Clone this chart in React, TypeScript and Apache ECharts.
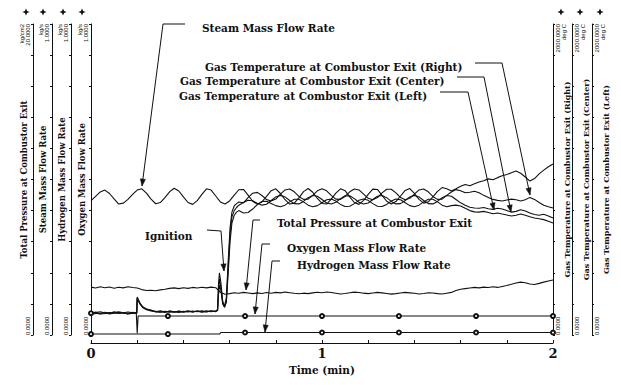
import { useEffect, useRef } from "react";
import * as echarts from "echarts";

// ---- data (time in minutes) ----
const TIME = [0,0.02,0.04,0.06,0.08,0.1,0.12,0.14,0.16,0.18,0.2,0.22,0.24,0.26,0.28,0.3,0.32,0.34,0.36,0.38,0.4,0.42,0.44,0.46,0.48,0.5,0.52,0.54,0.56,0.58,0.6,0.62,0.64,0.66,0.68,0.7,0.72,0.74,0.76,0.78,0.8,0.82,0.84,0.86,0.88,0.9,0.92,0.94,0.96,0.98,1,1.02,1.04,1.06,1.08,1.1,1.12,1.14,1.16,1.18,1.2,1.22,1.24,1.26,1.28,1.3,1.32,1.34,1.36,1.38,1.4,1.42,1.44,1.46,1.48,1.5,1.52,1.54,1.56,1.58,1.6,1.62,1.64,1.66,1.68,1.7,1.72,1.74,1.76,1.78,1.8,1.82,1.84,1.86,1.88,1.9,1.92,1.94,1.96,1.98,2];

// Steam mass flow rate, kg/s
const STEAM = [0.432,0.446,0.460,0.466,0.455,0.438,0.421,0.424,0.436,0.452,
0.466,0.470,0.456,0.437,0.422,0.426,0.442,0.460,0.472,0.463,
0.444,0.426,0.420,0.432,0.452,0.470,0.466,0.447,0.428,0.421,
0.431,0.450,0.467,0.468,0.450,0.430,0.420,0.428,0.446,0.464,
0.470,0.455,0.435,0.421,0.424,0.441,0.461,0.471,0.459,0.439,
0.423,0.421,0.437,0.456,0.470,0.464,0.444,0.426,0.420,0.433,
0.452,0.469,0.468,0.449,0.430,0.421,0.429,0.447,0.465,0.471,
0.455,0.436,0.424,0.428,0.444,0.462,0.474,0.470,0.463,0.470,
0.478,0.484,0.480,0.486,0.492,0.496,0.502,0.499,0.506,0.512,
0.516,0.522,0.527,0.520,0.508,0.495,0.503,0.518,0.530,0.541,
0.550];

// Total pressure at combustor exit, kg/cm2
const PRESSURE = [3.08,3.02,3.10,3.04,3.09,3.01,3.07,3.03,3.10,3.05,
3.02,2.92,2.86,2.88,2.85,2.90,2.94,3.00,3.03,2.98,3.04,3.00,3.06,3.02,3.07,3.03,3.08,3.04,
2.75,2.62,2.66,2.72,2.68,2.74,2.70,2.66,2.71,2.67,2.73,2.69,2.74,2.71,2.76,2.72,2.68,2.65,2.69,2.66,2.71,2.75,
2.72,2.77,2.73,2.69,2.64,2.67,2.72,2.76,2.73,2.69,2.66,2.70,2.74,2.71,2.67,2.63,2.66,2.70,2.74,2.71,
2.68,2.64,2.67,2.72,2.70,2.66,2.64,2.69,2.74,2.86,2.94,2.98,3.02,3.06,3.03,3.08,3.05,3.10,3.06,3.12,
3.18,3.26,3.34,3.40,3.36,3.28,3.25,3.32,3.40,3.47,3.54];

const TEMP_TIME = [0,0.04,0.08,0.12,0.16,0.198,0.2,0.206,0.214,0.225,0.24,0.26,0.28,0.3,0.32,0.34,0.36,0.38,0.4,0.42,0.44,0.46,0.48,0.5,0.52,0.54,0.548,0.552,0.556,0.562,0.57,0.578,0.586,0.594,0.602,0.61,0.62,0.63,0.64,
0.66,0.68,0.7,0.72,0.74,0.76,0.78,0.8,0.82,0.84,0.86,0.88,0.9,0.92,0.94,0.96,0.98,1,1.02,1.04,1.06,1.08,1.1,1.12,1.14,1.16,1.18,1.2,1.22,1.24,1.26,1.28,1.3,1.32,1.34,1.36,1.38,1.4,1.42,1.44,1.46,1.48,1.5,1.52,1.54,1.56,1.58,1.6,1.62,1.64,1.66,1.68,1.7,1.72,1.74,1.76,1.78,1.8,1.82,1.84,1.86,1.88,1.9,1.92,1.94,1.96,1.98,2];

// Gas temperatures at combustor exit, deg C
const TEMP_RIGHT = [140,150,135,145,138,142,245,225,200,180,168,158,150,155,148,152,146,154,149,155,150,153,147,155,150,156,160,300,360,310,210,185,240,480,690,790,830,845,855,
850,884,912,917,897,871,861,874,906,933,939,921,891,872,874,898,927,940,927,898,
874,872,891,921,939,933,906,879,870,884,914,937,937,914,884,870,879,906,933,939,
921,891,872,874,898,920,935,928,915,918,925,915,898,885,872,866,862,868,874,870,
862,870,885,872,852,835,825,817];
const TEMP_CENTER = [135,140,145,138,148,140,230,215,195,175,162,155,152,146,153,147,150,145,152,148,154,149,155,150,156,151,158,260,320,290,200,178,220,440,650,760,800,820,835,
852,867,863,847,835,841,865,888,898,888,865,845,843,859,883,897,892,871,849,842,
854,877,895,895,877,854,842,849,871,892,897,883,859,843,845,865,888,898,888,865,
845,843,859,883,897,892,871,850,835,822,817,815,820,812,808,815,810,800,790,795,
805,798,785,775,770,776,765,752];
const TEMP_LEFT = [145,135,140,150,136,144,240,220,198,178,166,160,148,150,145,155,149,152,147,153,146,155,150,148,154,150,165,330,400,340,220,180,210,400,600,720,770,790,800,
785,788,810,839,859,860,846,832,825,835,856,873,873,856,835,825,832,851,870,874,
861,840,826,828,845,866,875,866,845,828,826,840,861,874,870,851,832,825,835,856,
873,873,856,835,825,832,835,830,815,800,792,790,795,788,780,785,778,772,765,770,
778,770,760,752,748,742,732,720];

// Oxygen mass flow rate, kg/s
const OXYGEN_TIME = [0,0.02,0.04,0.06,0.08,0.1,0.12,0.14,0.16,0.18,0.196,0.2,0.204,0.333,0.667,1,1.333,1.667,2];
const OXYGEN = [0.070,0.074,0.068,0.073,0.069,0.075,0.070,0.072,0.068,0.073,0.071,0.006,0.061,0.061,0.061,0.061,0.061,0.061,0.061];

// Hydrogen mass flow rate, kg/s
const HYDROGEN_TIME = [0,0.333,0.556,0.562,0.667,1,1.333,1.667,2];
const HYDROGEN = [0.003,0.003,0.003,0.008,0.008,0.008,0.008,0.008,0.008];

const MARKER_TIMES = [0,0.333,0.667,1,1.333,1.667,2];

const X_TICK_LABELS = ["0", "1", "2"];
const X_NAME = "Time (min)";

// y axes: O2, H2, steam, pressure (left) | temp right, center, left (right side)
const AXIS_TITLES = [
  "Oxygen Mass Flow Rate",
  "Hydrogen Mass Flow Rate",
  "Steam Mass Flow Rate",
  "Total Pressure at Combustor Exit",
  "Gas Temperature at Combustor Exit (Right)",
  "Gas Temperature at Combustor Exit (Center)",
  "Gas Temperature at Combustor Exit (Left)",
];
const AXIS_UNITS = ["kg/s", "kg/s", "kg/s", "kg/cm2", "deg C", "deg C", "deg C"];
const AXIS_MAX = [1, 1, 1, 20, 2000, 2000, 2000];
const AXIS_MAX_LABELS = ["1.0000", "1.0000", "1.0000", "20.0000", "2000.0000", "2000.0000", "2000.0000"];
const AXIS_MIN_LABELS = ["0.0000", "0.0000", "0.0000", "0.0000", "0.0000", "0.0000", "0.0000"];

// ---- layout / style ----
const W = 621;
const H = 385;
const AXIS_OFFSETS = [0, 20, 39, 58, 0, 19, 39];
const SERIF = '"DejaVu Serif", serif';
const INK = "#111";

const ANNOTATIONS = [
  { text: "Steam Mass Flow Rate", x: 202, y: 28, pts: [[185, 24], [163, 24], [142, 186]] },
  { text: "Gas Temperature at Combustor Exit (Right)", x: 205, y: 67, pts: [[475, 63], [502, 63], [530, 195]] },
  { text: "Gas Temperature at Combustor Exit (Center)", x: 180, y: 81, pts: [[457, 77], [484, 77], [511, 212]] },
  { text: "Gas Temperature at Combustor Exit (Left)", x: 179, y: 96, pts: [[440, 92], [468, 92], [494, 210]] },
  { text: "Ignition", x: 145, y: 236, pts: [[207, 230], [221, 231], [224, 271]] },
  { text: "Total Pressure at Combustor Exit", x: 277, y: 223, pts: [[260, 220], [253, 220], [246, 290]] },
  { text: "Oxygen Mass Flow Rate", x: 287, y: 248, pts: [[270, 244], [262, 244], [255, 314]] },
  { text: "Hydrogen Mass Flow Rate", x: 297, y: 265, pts: [[280, 261], [272, 261], [265, 332]] },
];
const STAR_POS = [[26, 12], [43, 12], [63, 12], [82, 12], [561, 12], [580, 12], [600, 12]];

function arrowHead(pts: number[][]) {
  const t = pts[pts.length - 1];
  const p = pts[pts.length - 2];
  const dx = t[0] - p[0];
  const dy = t[1] - p[1];
  const len = Math.hypot(dx, dy) || 1;
  const ux = dx / len;
  const uy = dy / len;
  const hl = 7;
  const hw = 2.6;
  return [
    [t[0], t[1]],
    [t[0] - hl * ux - hw * uy, t[1] - hl * uy + hw * ux],
    [t[0] - hl * ux + hw * uy, t[1] - hl * uy - hw * ux],
  ];
}

function star(cx: number, cy: number) {
  const r = 3.6;
  const q = 1.1;
  return [
    [cx, cy - r], [cx + q, cy - q], [cx + r, cy], [cx + q, cy + q],
    [cx, cy + r], [cx - q, cy + q], [cx - r, cy], [cx - q, cy - q],
  ];
}

function lineSeries(name: string, yAxisIndex: number, times: number[], vals: number[], markers = false) {
  return {
    type: "line",
    name,
    yAxisIndex,
    data: times.map((t, i) =>
      markers
        ? { value: [t, vals[i]], symbol: MARKER_TIMES.includes(t) ? "emptyCircle" : "none" }
        : [t, vals[i]]
    ),
    showSymbol: markers,
    symbol: markers ? "emptyCircle" : "none",
    symbolSize: 4,
    itemStyle: { color: INK, borderColor: INK, borderWidth: 1 },
    lineStyle: { color: INK, width: 1.1 },
    silent: true,
    z: 3,
  };
}

export default function App() {
  const ref = useRef<HTMLDivElement>(null);
  useEffect(() => {
    if (!ref.current) return;
    const chart = echarts.init(ref.current, null, { renderer: "svg" });

    const yAxis = AXIS_TITLES.map((title, i) => {
      const left = i < 4;
      const max = AXIS_MAX[i];
      const maxLabel = left
        ? `${AXIS_UNITS[i]}\n${AXIS_MAX_LABELS[i]}`
        : `${AXIS_MAX_LABELS[i]}\n${AXIS_UNITS[i]}`;
      return {
        type: "value",
        position: left ? "left" : "right",
        offset: AXIS_OFFSETS[i],
        min: 0,
        max,
        interval: max / 10,
        name: title,
        nameLocation: "middle",
        nameRotate: 90,
        nameGap: left ? 5 : 10,
        nameMoveOverlap: false,
        nameTextStyle: { fontFamily: SERIF, fontWeight: "bold", fontSize: left ? 8.5 : 8, color: INK },
        axisLine: { show: true, onZero: false, lineStyle: { color: INK, width: 1 } },
        axisTick: { show: true, length: 2, lineStyle: { color: INK, width: 1 } },
        splitLine: { show: false },
        axisLabel: {
          show: true,
          showMinLabel: true,
          showMaxLabel: true,
          rotate: 90,
          margin: 2,
          fontSize: 6,
          lineHeight: 6,
          fontFamily: '"Liberation Sans", sans-serif',
          color: INK,
          align: "center",
          alignMinLabel: "left",
          alignMaxLabel: "right",
          verticalAlign: left ? "bottom" : "top",
          verticalAlignMinLabel: left ? "bottom" : "top",
          verticalAlignMaxLabel: left ? "bottom" : "top",
          formatter: (v: number) =>
            Math.abs(v) < 1e-9 ? AXIS_MIN_LABELS[i] : Math.abs(v - max) < 1e-6 ? maxLabel : "",
        },
      };
    });

    const graphic: any[] = [];
    ANNOTATIONS.forEach((a) => {
      graphic.push({
        type: "text",
        x: a.x,
        y: a.y,
        silent: true,
        style: {
          text: a.text,
          fontFamily: SERIF,
          fontWeight: "bold",
          fontSize: 10.5,
          fill: INK,
          align: "left",
          verticalAlign: "middle",
        },
      });
      graphic.push({
        type: "polyline",
        silent: true,
        shape: { points: a.pts },
        style: { stroke: INK, lineWidth: 1, fill: null },
      });
      graphic.push({
        type: "polygon",
        silent: true,
        shape: { points: arrowHead(a.pts) },
        style: { fill: INK, stroke: INK, lineWidth: 0.5 },
      });
    });
    STAR_POS.forEach((p) => {
      graphic.push({
        type: "polygon",
        silent: true,
        shape: { points: star(p[0], p[1]) },
        style: { fill: INK },
      });
    });

    chart.setOption({
      animation: false,
      backgroundColor: "#ffffff",
      textStyle: { fontFamily: SERIF },
      grid: { left: 91, right: 68, top: 24, bottom: 50, containLabel: false, outerBoundsMode: "none" },
      xAxis: {
        type: "value",
        min: 0,
        max: 2,
        interval: 0.2,
        offset: 8,
        name: X_NAME,
        nameLocation: "middle",
        nameGap: 21,
        nameTextStyle: { fontFamily: SERIF, fontWeight: "bold", fontSize: 10.5, color: INK },
        axisLine: { show: true, onZero: false, lineStyle: { color: INK, width: 1 } },
        axisTick: { show: true, inside: true, length: 3, lineStyle: { color: INK } },
        splitLine: { show: false },
        axisLabel: {
          margin: 4,
          fontFamily: SERIF,
          fontWeight: "bold",
          fontSize: 13,
          color: INK,
          formatter: (v: number) => {
            const r = Math.round(v);
            return Math.abs(v - r) < 1e-6 ? X_TICK_LABELS[r] ?? "" : "";
          },
        },
      },
      yAxis,
      series: [
        lineSeries("Oxygen Mass Flow Rate", 0, OXYGEN_TIME, OXYGEN, true),
        lineSeries("Hydrogen Mass Flow Rate", 1, HYDROGEN_TIME, HYDROGEN, true),
        lineSeries("Steam Mass Flow Rate", 2, TIME, STEAM),
        lineSeries("Total Pressure at Combustor Exit", 3, TIME, PRESSURE),
        lineSeries("Gas Temperature at Combustor Exit (Right)", 4, TEMP_TIME, TEMP_RIGHT),
        lineSeries("Gas Temperature at Combustor Exit (Center)", 5, TEMP_TIME, TEMP_CENTER),
        lineSeries("Gas Temperature at Combustor Exit (Left)", 6, TEMP_TIME, TEMP_LEFT),
      ],
      graphic,
    });
    return () => chart.dispose();
  }, []);

  return (
    <div
      ref={ref}
      style={{ position: "fixed", left: 0, top: 0, width: W, height: H, background: "#fff" }}
    />
  );
}
